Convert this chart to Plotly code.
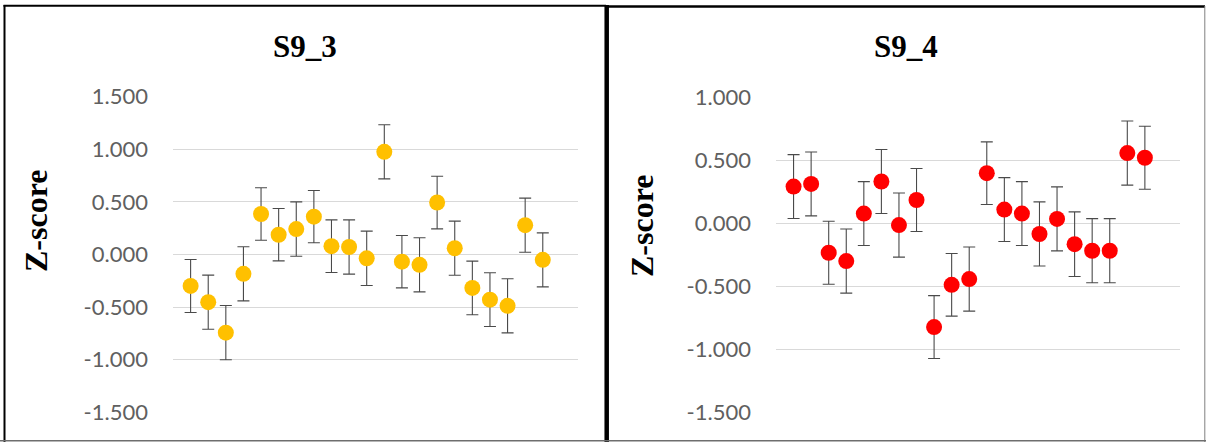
import plotly.graph_objects as go

W, H = 1206, 442

# ---- data ----
categories = list(range(1, 22))
s93_values = [-0.299, -0.453, -0.743, -0.184, 0.385, 0.188, 0.242, 0.360, 0.079, 0.071,
              -0.036, 0.976, -0.068, -0.098, 0.494, 0.060, -0.318, -0.429, -0.488, 0.279, -0.051]
s93_errors = [0.252, 0.257, 0.258, 0.257, 0.249, 0.249, 0.258, 0.249, 0.250, 0.258,
              0.258, 0.257, 0.249, 0.257, 0.250, 0.257, 0.255, 0.255, 0.257, 0.257, 0.257]
s94_values = [0.294, 0.315, -0.232, -0.298, 0.079, 0.334, -0.012, 0.187, -0.823, -0.487,
              -0.441, 0.400, 0.111, 0.079, -0.083, 0.037, -0.164, -0.216, -0.216, 0.560, 0.523]
s94_errors = [0.254, 0.254, 0.250, 0.255, 0.254, 0.254, 0.255, 0.250, 0.250, 0.249,
              0.255, 0.249, 0.254, 0.254, 0.255, 0.254, 0.257, 0.255, 0.255, 0.255, 0.250]
left_ticks = [-1.5, -1.0, -0.5, 0.0, 0.5, 1.0, 1.5]
left_ticktext = ["-1.500", "-1.000", "-0.500", "0.000", "0.500", "1.000", "1.500"]
right_ticks = [-1.5, -1.0, -0.5, 0.0, 0.5, 1.0]
right_ticktext = ["-1.500", "-1.000", "-0.500", "0.000", "0.500", "1.000"]
titles = ["S9_3", "S9_4"]
ytitle = "Z-score"


def px(x):
    return x / W


def py(y):
    return 1 - y / H


fig = go.Figure()

err_style = dict(type="data", visible=True, color="#4a4a4a", thickness=1.1, width=6)

fig.add_trace(go.Scatter(
    x=categories, y=s93_values, mode="markers",
    marker=dict(color="#FFC000", size=16, line=dict(width=0)),
    error_y=dict(array=s93_errors, **err_style),
    xaxis="x", yaxis="y", showlegend=False, hoverinfo="y"))

fig.add_trace(go.Scatter(
    x=categories, y=s94_values, mode="markers",
    marker=dict(color="#FF0000", size=16, line=dict(width=0)),
    error_y=dict(array=s94_errors, **err_style),
    xaxis="x2", yaxis="y2", showlegend=False, hoverinfo="y"))

tickfont = dict(family="Lato", size=22, color="#606060")
xcommon = dict(range=[0, 23], showgrid=False, zeroline=False, showticklabels=False,
               showline=False, ticks="", fixedrange=True, automargin=False)
ycommon = dict(showgrid=True, gridcolor="#D9D9D9", gridwidth=1, zeroline=False,
               showline=False, ticks="", tickfont=tickfont, ticklabelstandoff=24,
               fixedrange=True, automargin=False)

fig.update_layout(
    width=W, height=H,
    margin=dict(l=0, r=0, t=0, b=0, pad=0, autoexpand=False),
    paper_bgcolor="white", plot_bgcolor="white",
    xaxis=dict(domain=[px(173), px(578)], anchor="y", **xcommon),
    yaxis=dict(domain=[py(412.3), py(96.7)], anchor="x", range=[-1.5, 1.5],
               tickvals=left_ticks, ticktext=left_ticktext, **ycommon),
    xaxis2=dict(domain=[px(776), px(1180)], anchor="y2", **xcommon),
    yaxis2=dict(domain=[py(412.3), py(97.7)], anchor="x2", range=[-1.5, 1.0],
                tickvals=right_ticks, ticktext=right_ticktext, **ycommon),
)

title_font = dict(family="Liberation Serif", size=31, color="#000000")
ytitle_font = dict(family="Liberation Serif", size=32, color="#000000")

annotations = [
    dict(text="<b>%s</b>" % titles[0], x=px(305), y=py(47), xref="paper", yref="paper",
         xanchor="center", yanchor="middle", showarrow=False, font=title_font),
    dict(text="<b>%s</b>" % titles[1], x=px(906), y=py(47), xref="paper", yref="paper",
         xanchor="center", yanchor="middle", showarrow=False, font=title_font),
    dict(text="<b>%s</b>" % ytitle, x=px(36), y=py(221), xref="paper", yref="paper",
         xanchor="center", yanchor="middle", textangle=-90, showarrow=False, font=ytitle_font),
    dict(text="<b>%s</b>" % ytitle, x=px(642), y=py(226), xref="paper", yref="paper",
         xanchor="center", yanchor="middle", textangle=-90, showarrow=False, font=ytitle_font),
]
fig.update_layout(annotations=annotations)


def line(x0, y0, x1, y1, color, width):
    return dict(type="line", xref="paper", yref="paper",
                x0=px(x0), y0=py(y0), x1=px(x1), y1=py(y1),
                line=dict(color=color, width=width))


shapes = [
    line(4.5, 5, 4.5, 442, "#000000", 2),        # left panel left border
    line(3.5, 5.8, 606, 5.8, "#000000", 2),      # left panel top border
    line(606.7, 5, 606.7, 442, "#000000", 4.5),  # middle divider
    line(606, 6.5, 1205, 6.5, "#000000", 2.5),   # right panel top border
    line(1204.8, 6, 1204.8, 442, "#808080", 1),  # right panel right border
    line(0, 440.7, 1206, 440.7, "#6e6e6e", 1.5),  # bottom border
]
fig.update_layout(shapes=shapes)

post = ("document.body.style.margin='0';document.body.style.padding='0';"
        "document.body.style.overflow='hidden';"
        "document.documentElement.style.overflow='hidden';")
fig.write_html("out.html", config={"displayModeBar": False}, post_script=post)
